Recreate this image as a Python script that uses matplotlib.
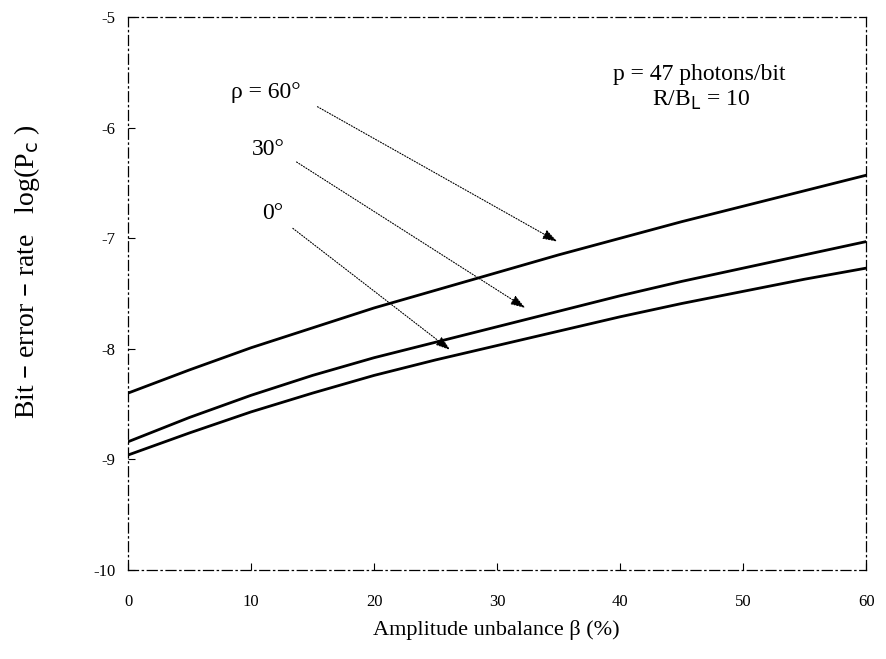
import matplotlib
matplotlib.use("Agg")
import matplotlib.pyplot as plt

plt.rcParams['font.family'] = ['Liberation Serif', 'DejaVu Serif']

beta = [0, 5, 10, 15, 20, 25, 30, 35, 40, 45, 50, 55, 60]
ber_rho60 = [-8.40, -8.19, -7.99, -7.81, -7.63, -7.47, -7.31, -7.15, -7.00, -6.85, -6.71, -6.57, -6.43]
ber_rho30 = [-8.84, -8.62, -8.42, -8.24, -8.08, -7.94, -7.80, -7.66, -7.52, -7.39, -7.27, -7.15, -7.03]
ber_rho0 = [-8.96, -8.76, -8.57, -8.40, -8.24, -8.10, -7.97, -7.84, -7.71, -7.59, -7.48, -7.37, -7.27]

x_ticks = [0, 10, 20, 30, 40, 50, 60]
y_ticks = [-10, -9, -8, -7, -6, -5]
y_tick_labels = ['-10', '-9', '-8', '-7', '-6', '-5']

curve_labels = ['ρ = 60°', '30°', '0°']
label_pos = [(8.4, -5.68), (10.1, -6.2), (10.9, -6.78)]
arrow_start = [(15.4, -5.81), (13.7, -6.31), (13.4, -6.91)]
arrow_end = [(34.9, -7.03), (32.3, -7.63), (26.2, -8.01)]

fig = plt.figure(figsize=(8.86, 6.59), dpi=100)
ax = fig.add_axes([0.1445, 0.135, 0.833, 0.839])

for ys in (ber_rho60, ber_rho30, ber_rho0):
    ax.plot(beta, ys, color='black', lw=2.0)

for lab, (lx, ly), s, e in zip(curve_labels, label_pos, arrow_start, arrow_end):
    ax.text(lx, ly, lab, fontsize=17, ha='left', va='center')
    ax.annotate('', xy=e, xytext=s,
                arrowprops=dict(arrowstyle='-|>,head_length=0.9,head_width=0.3',
                                color='black', lw=0.8, linestyle=(0, (1, 1.5)),
                                shrinkA=0, shrinkB=0))

ax.text(46.4, -5.52, 'p = 47 photons/bit', fontsize=17, ha='center', va='center')
ax.text(46.6, -5.75, r'R/B$_\mathrm{L}$ = 10', fontsize=17, ha='center', va='center')

ax.set_xlim(0, 60)
ax.set_ylim(-10, -5)
ax.set_xticks(x_ticks)
ax.set_yticks(y_ticks)
ax.set_yticklabels(y_tick_labels)
ax.tick_params(direction='in', length=5, width=0.8, labelsize=12)
ax.tick_params(axis='x', pad=17)
ax.tick_params(axis='y', pad=9)

for sp in ax.spines.values():
    sp.set_linestyle((0, (8, 3, 1, 3)))
    sp.set_linewidth(0.9)

ax.set_xlabel('Amplitude unbalance β (%)', fontsize=16)
ax.set_ylabel(r'Bit – error – rate   log(P$_\mathrm{c}$ )', fontsize=20)
ax.xaxis.set_label_coords(0.499, -0.09)
ax.yaxis.set_label_coords(-0.117, 0.54)

fig.savefig('out.png', dpi=100)
